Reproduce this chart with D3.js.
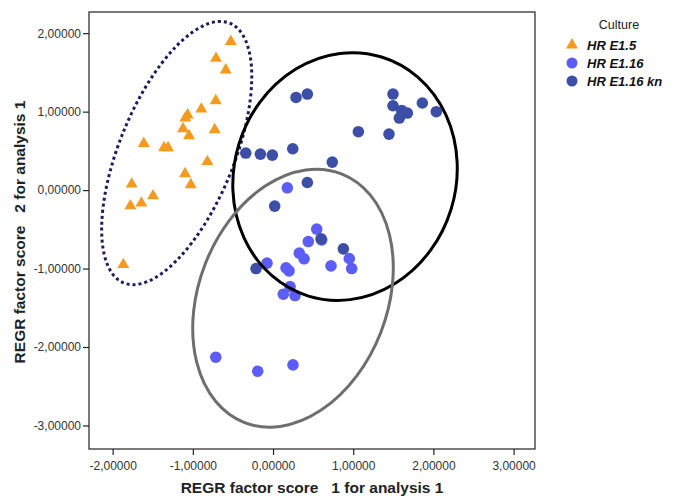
<!DOCTYPE html>
<html>
<head>
<meta charset="utf-8">
<script src="https://cdn.jsdelivr.net/npm/d3@7"></script>
<style>
  body { margin: 0; background: #fff; }
  svg { display: block; font-family: "Liberation Sans", Arial, sans-serif; }
</style>
</head>
<body>
<svg id="chart" width="685" height="497"></svg>
<script>
// ---- Data ----
const seriesNames = ["HR E1.5", "HR E1.16", "HR E1.16 kn"];

const e15x = [-0.527, -0.711, -0.590, -0.714, -0.894, -1.064, -1.094, -1.122, -1.047, -0.727,
              -1.612, -1.359, -1.309, -0.819, -1.097, -1.026, -1.762, -1.496, -1.642, -1.779, -1.867];
const e15y = [1.895, 1.679, 1.531, 1.139, 1.033, 0.957, 0.918, 0.782, 0.693, 0.769,
              0.594, 0.540, 0.540, 0.364, 0.208, 0.068, 0.077, -0.073, -0.166, -0.200, -0.949];

const e116x = [0.178, 0.545, 0.607, 0.440, 0.328, 0.387, -0.075, 0.162, 0.200, 0.723,
               0.951, 0.981, 0.212, 0.128, 0.274, -0.714, -0.191, 0.249];
const e116y = [0.029, -0.497, -0.634, -0.656, -0.804, -0.876, -0.931, -0.991, -1.029, -0.966,
               -0.872, -1.000, -1.230, -1.327, -1.344, -2.130, -2.309, -2.228];

const knx = [0.287, 0.428, 1.496, 1.496, 1.605, 1.675, 1.575, 1.862, 2.036, 1.064, 1.446,
             -0.340, -0.158, -0.009, 0.246, 0.739, 0.428, 0.021, 0.599, 0.877, -0.212];
const kny = [1.181, 1.224, 1.224, 1.075, 1.015, 0.982, 0.918, 1.110, 0.999, 0.744, 0.714,
             0.472, 0.459, 0.446, 0.527, 0.357, 0.097, -0.204, -0.621, -0.749, -1.000];

const xTicks = [-2, -1, 0, 1, 2, 3];
const yTicks = [2, 1, 0, -1, -2, -3];

// Annotation ellipses: centre in data units, semi-axes in x-data units, rotation in degrees
const ellipseCx = [-1.201, 0.898, 0.249];
const ellipseCy = [0.472, 0.173, -1.378];
const ellipseRx = [0.716, 1.384, 1.175];
const ellipseRy = [1.749, 1.559, 1.665];
const ellipseRot = [22.2, 17, 21.3];

// ---- Layout ----
const svg = d3.select("#chart");
const plot = { left: 89, right: 535, top: 12, bottom: 449 };
const x = d3.scaleLinear().domain([-2.295, 3.267]).range([plot.left, plot.right]);
const y = d3.scaleLinear().domain([-3.30, 2.27]).range([plot.bottom, plot.top]);

const locale = d3.formatLocale({ decimal: ",", thousands: ".", grouping: [3], currency: ["", ""], minus: "-" });
const fmt = locale.format(".5f");

const colors = ["#f39a1f", "#5c5cf7", "#3c4ea6"];

// Frame
svg.append("rect")
  .attr("x", plot.left).attr("y", plot.top)
  .attr("width", plot.right - plot.left).attr("height", plot.bottom - plot.top)
  .attr("fill", "none").attr("stroke", "#222").attr("stroke-width", 1.2);

// Axes
const xAxis = svg.append("g")
  .attr("transform", `translate(0,${plot.bottom})`)
  .call(d3.axisBottom(x).tickValues(xTicks).tickFormat(fmt).tickSize(6).tickSizeOuter(0));
const yAxis = svg.append("g")
  .attr("transform", `translate(${plot.left},0)`)
  .call(d3.axisLeft(y).tickValues(yTicks).tickFormat(fmt).tickSize(6).tickSizeOuter(0));
[xAxis, yAxis].forEach(g => {
  g.select(".domain").remove();
  g.selectAll(".tick line").attr("stroke", "#222").attr("stroke-width", 1.2);
  g.selectAll(".tick text").attr("fill", "#333").style("font-size", "12px")
    .style("font-family", "'Liberation Sans', Arial, sans-serif");
});
xAxis.selectAll(".tick text").attr("dy", "1.0em");
yAxis.selectAll(".tick text").attr("x", -8);

// Axis titles
svg.append("text")
  .attr("x", 312).attr("y", 493)
  .attr("text-anchor", "middle")
  .style("white-space", "pre")
  .style("font-size", "15.5px").style("font-weight", "bold").attr("fill", "#222")
  .text("REGR factor score   1 for analysis 1");
svg.append("text")
  .attr("transform", `translate(25,232) rotate(-90)`)
  .attr("text-anchor", "middle")
  .style("white-space", "pre")
  .style("font-size", "15.5px").style("font-weight", "bold").attr("fill", "#222")
  .text("REGR factor score   2 for analysis 1");

// Points
const tri = d3.symbol().type(d3.symbolTriangle).size(62);
const ptsG = svg.append("g");
ptsG.selectAll("path.e15").data(d3.range(e15x.length)).join("path")
  .attr("class", "e15")
  .attr("d", tri)
  .attr("transform", i => `translate(${x(e15x[i])},${y(e15y[i])})`)
  .attr("fill", colors[0]);
ptsG.selectAll("circle.e116").data(d3.range(e116x.length)).join("circle")
  .attr("class", "e116")
  .attr("cx", i => x(e116x[i])).attr("cy", i => y(e116y[i])).attr("r", 5.8)
  .attr("fill", colors[1]);
ptsG.selectAll("circle.kn").data(d3.range(knx.length)).join("circle")
  .attr("class", "kn")
  .attr("cx", i => x(knx[i])).attr("cy", i => y(kny[i])).attr("r", 5.8)
  .attr("fill", colors[2]);

// Ellipses
const unit = x(1) - x(0);
const ellStroke = ["#1e1b5e", "#000", "#6e6e6e"];
const ellDash = ["3,3", null, null];
const ellG = svg.append("g");
ellG.selectAll("ellipse").data(d3.range(ellipseCx.length)).join("ellipse")
  .attr("cx", 0).attr("cy", 0)
  .attr("rx", i => ellipseRx[i] * unit).attr("ry", i => ellipseRy[i] * unit)
  .attr("transform", i => `translate(${x(ellipseCx[i])},${y(ellipseCy[i])}) rotate(${ellipseRot[i]})`)
  .attr("fill", "none")
  .attr("stroke", i => ellStroke[i])
  .attr("stroke-width", 3)
  .attr("stroke-dasharray", i => ellDash[i]);

// Legend
const leg = svg.append("g");
leg.append("text").attr("x", 619).attr("y", 29).attr("text-anchor", "middle")
  .style("font-size", "12.5px").attr("fill", "#222").text("Culture");
const legY = [45, 63, 81];
seriesNames.forEach((name, i) => {
  if (i === 0) {
    leg.append("path").attr("d", tri)
      .attr("transform", `translate(572,${legY[i]})`).attr("fill", colors[0]);
  } else {
    leg.append("circle").attr("cx", 572).attr("cy", legY[i]).attr("r", 5.5).attr("fill", colors[i]);
  }
  leg.append("text").attr("x", 587).attr("y", legY[i] + 4.5)
    .style("font-size", "13px").style("font-weight", "bold").style("font-style", "italic")
    .attr("fill", "#111").text(name);
});
</script>
</body>
</html>
